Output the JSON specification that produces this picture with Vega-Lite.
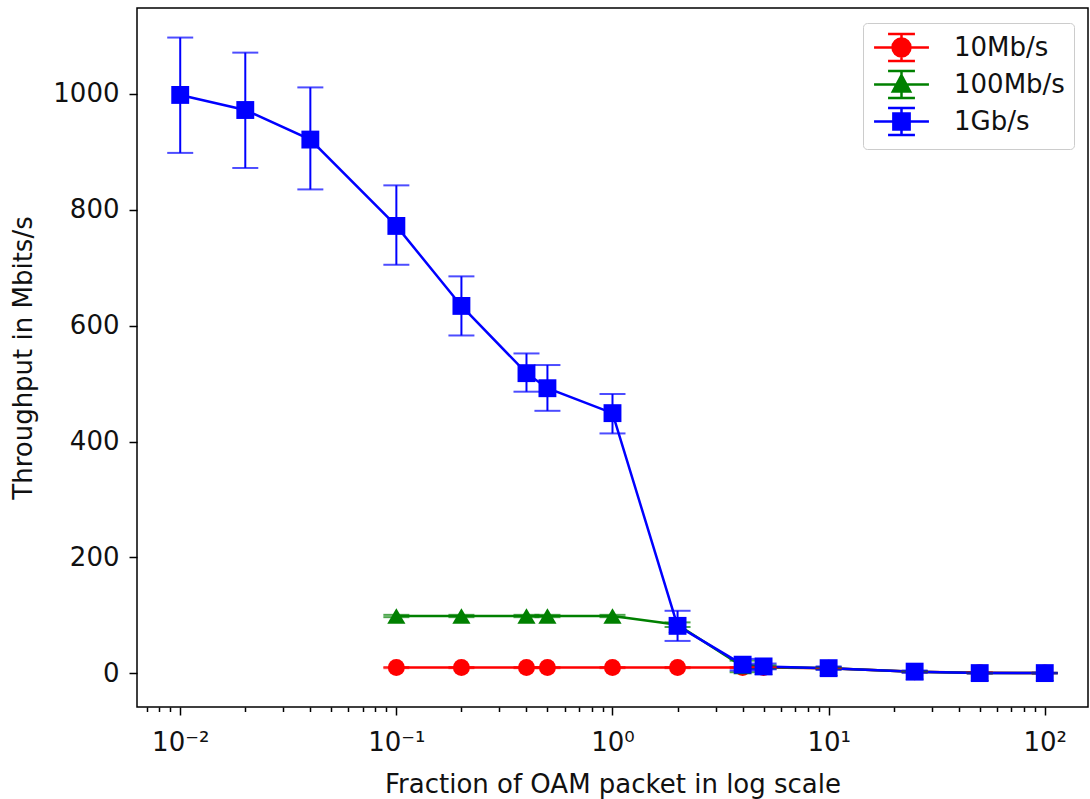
{
  "$schema": "https://vega.github.io/schema/vega-lite/v6.json",
  "autosize": {"type": "none"},
  "width": 951,
  "height": 699,
  "padding": {"left": 137, "top": 8, "right": 2, "bottom": 92},
  "data": {"values": [
    {"series": "10Mb/s", "x": 0.1, "y": 10, "lo": 9, "hi": 11},
    {"series": "10Mb/s", "x": 0.2, "y": 10, "lo": 9, "hi": 11},
    {"series": "10Mb/s", "x": 0.4, "y": 10, "lo": 9, "hi": 11},
    {"series": "10Mb/s", "x": 0.5, "y": 10, "lo": 9, "hi": 11},
    {"series": "10Mb/s", "x": 1, "y": 10, "lo": 9, "hi": 11},
    {"series": "10Mb/s", "x": 2, "y": 10, "lo": 9, "hi": 11},
    {"series": "10Mb/s", "x": 4, "y": 10, "lo": 9, "hi": 11},
    {"series": "10Mb/s", "x": 5, "y": 10, "lo": 9, "hi": 11},
    {"series": "10Mb/s", "x": 10, "y": 9, "lo": 8, "hi": 10},
    {"series": "10Mb/s", "x": 25, "y": 3, "lo": 2, "hi": 4},
    {"series": "10Mb/s", "x": 50, "y": 1, "lo": 0, "hi": 2},
    {"series": "10Mb/s", "x": 100, "y": 0.5, "lo": 0, "hi": 1},
    {"series": "100Mb/s", "x": 0.1, "y": 99, "lo": 97, "hi": 101},
    {"series": "100Mb/s", "x": 0.2, "y": 99, "lo": 97, "hi": 101},
    {"series": "100Mb/s", "x": 0.4, "y": 99, "lo": 97, "hi": 101},
    {"series": "100Mb/s", "x": 0.5, "y": 99, "lo": 97, "hi": 101},
    {"series": "100Mb/s", "x": 1, "y": 99, "lo": 97, "hi": 101},
    {"series": "100Mb/s", "x": 2, "y": 84, "lo": 80, "hi": 88},
    {"series": "100Mb/s", "x": 4, "y": 12, "lo": 2, "hi": 22},
    {"series": "100Mb/s", "x": 5, "y": 11, "lo": 8, "hi": 14},
    {"series": "100Mb/s", "x": 10, "y": 9, "lo": 7, "hi": 11},
    {"series": "100Mb/s", "x": 25, "y": 3, "lo": 2, "hi": 4},
    {"series": "100Mb/s", "x": 50, "y": 0.5, "lo": 0, "hi": 1},
    {"series": "100Mb/s", "x": 100, "y": 0.5, "lo": 0, "hi": 1},
    {"series": "1Gb/s", "x": 0.01, "y": 998, "lo": 898, "hi": 1097},
    {"series": "1Gb/s", "x": 0.02, "y": 972, "lo": 872, "hi": 1071},
    {"series": "1Gb/s", "x": 0.04, "y": 921, "lo": 835, "hi": 1011},
    {"series": "1Gb/s", "x": 0.1, "y": 772, "lo": 705, "hi": 842},
    {"series": "1Gb/s", "x": 0.2, "y": 634, "lo": 583, "hi": 685},
    {"series": "1Gb/s", "x": 0.4, "y": 518, "lo": 486, "hi": 552},
    {"series": "1Gb/s", "x": 0.5, "y": 492, "lo": 453, "hi": 532},
    {"series": "1Gb/s", "x": 1, "y": 449, "lo": 414, "hi": 482},
    {"series": "1Gb/s", "x": 2, "y": 82, "lo": 56, "hi": 108},
    {"series": "1Gb/s", "x": 4, "y": 15, "lo": 5, "hi": 25},
    {"series": "1Gb/s", "x": 5, "y": 12, "lo": 7, "hi": 17},
    {"series": "1Gb/s", "x": 10, "y": 9, "lo": 6, "hi": 12},
    {"series": "1Gb/s", "x": 25, "y": 3, "lo": 1, "hi": 5},
    {"series": "1Gb/s", "x": 50, "y": 0.5, "lo": 0, "hi": 1},
    {"series": "1Gb/s", "x": 100, "y": 0.5, "lo": 0, "hi": 1}
  ]},
  "encoding": {
    "x": {"field": "x", "type": "quantitative",
          "scale": {"type": "log", "domain": [0.00631, 158.5], "nice": false, "zero": false},
          "axis": {"values": [0.007,0.008,0.009,0.01,0.02,0.03,0.04,0.05,0.06,0.07,0.08,0.09,0.1,0.2,0.3,0.4,0.5,0.6,0.7,0.8,0.9,1,2,3,4,5,6,7,8,9,10,20,30,40,50,60,70,80,90,100],
                   "labelExpr": "datum.value == 0.01 ? '10⁻²' : datum.value == 0.1 ? '10⁻¹' : datum.value == 1 ? '10⁰' : datum.value == 10 ? '10¹' : datum.value == 100 ? '10²' : ''",
                   "tickSize": {"condition": {"test": "indexof([0.01,0.1,1,10,100], datum.value) >= 0", "value": 8}, "value": 4.5},
                   "labelPadding": 14, "title": "Fraction of OAM packet in log scale", "titlePadding": 16, "domain": false}},
    "y": {"field": "y", "type": "quantitative", "scale": {"domain": [-58, 1148], "nice": false, "zero": false},
          "axis": {"values": [0, 200, 400, 600, 800, 1000], "format": "d", "tickSize": 8, "labelPadding": 10, "title": "Throughput in Mbits/s", "titlePadding": 16, "domain": false}},
    "color": {"field": "series", "type": "nominal", "scale": {"domain": ["10Mb/s", "100Mb/s", "1Gb/s"], "range": ["#ff0000", "#008000", "#0000ff"]}, "title": null}
  },
  "layer": [
    {
      "mark": {"type": "point", "filled": true, "opacity": 0, "size": 784},
      "encoding": {
        "color": {"field": "series", "type": "nominal", "title": null,
                  "legend": {"orient": "none", "legendX": 726, "legendY": 15, "symbolOpacity": 1, "symbolSize": 784, "symbolStrokeWidth": 2.5,
                             "encode": {"symbols": {"update": {"stroke": {"scale": "color", "field": "value"}, "fill": {"scale": "color", "field": "value"}, "opacity": {"value": 1}, "strokeWidth": {"value": 2.5}}}}}},
        "shape": {"field": "series", "type": "nominal", "title": null,
                  "scale": {"domain": ["10Mb/s", "100Mb/s", "1Gb/s"],
                            "range": [
                              "M-1.96,0H1.96M0,-0.96V0.96M-0.96,-0.96H0.96M-0.96,0.96H0.96M0.64,0A0.64,0.64 0 1,1 -0.64,0A0.64,0.64 0 1,1 0.64,0Z",
                              "M-1.96,0H1.96M0,-0.96V0.96M-0.96,-0.96H0.96M-0.96,0.96H0.96M0,-0.66L0.62,0.5L-0.62,0.5Z",
                              "M-1.96,0H1.96M0,-0.96V0.96M-0.96,-0.96H0.96M-0.96,0.96H0.96M-0.58,-0.58H0.58V0.58H-0.58Z"
                            ]}}
      }
    },
    {
      "mark": {"type": "line", "strokeWidth": 2.5},
      "encoding": {"detail": {"field": "series"}}
    },
    {
      "mark": {"type": "rule", "strokeWidth": 2},
      "encoding": {
        "y": {"field": "lo", "type": "quantitative"},
        "y2": {"field": "hi"}
      }
    },
    {
      "mark": {"type": "tick", "orient": "horizontal", "size": 26, "thickness": 2},
      "encoding": {"y": {"field": "lo", "type": "quantitative"}}
    },
    {
      "mark": {"type": "tick", "orient": "horizontal", "size": 26, "thickness": 2},
      "encoding": {"y": {"field": "hi", "type": "quantitative"}}
    },
    {
      "transform": [{"filter": "datum.series == '10Mb/s'"}],
      "mark": {"type": "point", "filled": true, "shape": "circle", "size": 290, "opacity": 1}
    },
    {
      "transform": [{"filter": "datum.series == '100Mb/s'"}],
      "mark": {"type": "point", "filled": true, "shape": "triangle-up", "size": 330, "opacity": 1}
    },
    {
      "transform": [{"filter": "datum.series == '1Gb/s'"}],
      "mark": {"type": "point", "filled": true, "shape": "square", "size": 320, "opacity": 1}
    }
  ],
  "config": {
    "font": "DejaVu Sans",
    "view": {"stroke": "black", "strokeWidth": 1.5},
    "axis": {"grid": false, "domainColor": "black", "tickColor": "black", "tickWidth": 1.5, "labelColor": "#111", "titleColor": "#111", "labelFontSize": 26, "titleFontSize": 26, "titleFontWeight": "normal", "labelFont": "DejaVu Sans", "titleFont": "DejaVu Sans"},
    "legend": {"labelFontSize": 26, "labelFont": "DejaVu Sans", "labelColor": "#111", "strokeColor": "#cccccc", "cornerRadius": 4, "fillColor": "white", "padding": 9, "rowPadding": 0, "labelOffset": 37, "symbolOffset": 14}
  }
}
